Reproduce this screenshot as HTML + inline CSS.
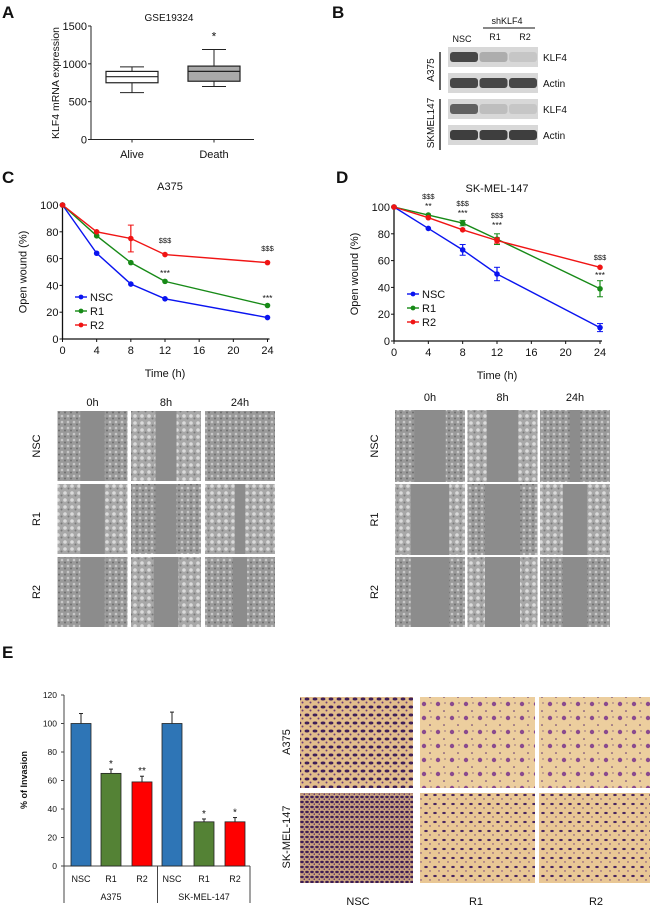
<!DOCTYPE html>
<html><head><meta charset="utf-8"><style>
html,body{margin:0;padding:0;background:#fff;}
svg{display:block;font-family:"Liberation Sans",Arial,sans-serif;}
</style></head><body>
<svg id="fig" width="650" height="907" viewBox="0 0 650 907" xmlns="http://www.w3.org/2000/svg">
<defs>
<pattern id="cellsA" width="6" height="6" patternUnits="userSpaceOnUse">
<rect width="6" height="6" fill="#9a9a9a"/><circle cx="2" cy="2" r="1.3" fill="#c8c8c8"/><circle cx="5" cy="4.5" r="1" fill="#6e6e6e"/>
</pattern>
<pattern id="cellsB" width="7" height="7" patternUnits="userSpaceOnUse">
<rect width="7" height="7" fill="#a8a8a8"/><circle cx="2" cy="3" r="1.8" fill="#dadada"/><circle cx="5.5" cy="5.5" r="1" fill="#7a7a7a"/>
</pattern>
<pattern id="purpN" width="8" height="8" patternUnits="userSpaceOnUse">
<rect width="8" height="8" fill="#e2bd8c"/><ellipse cx="3" cy="3" rx="2.4" ry="1.5" fill="#3f1f58"/><circle cx="6.5" cy="6.5" r="1" fill="#6a3a7a"/>
</pattern>
<pattern id="purp" width="9" height="9" patternUnits="userSpaceOnUse">
<rect width="9" height="9" fill="#e9c795"/><ellipse cx="3" cy="3" rx="1.8" ry="1.1" fill="#4a2660"/><circle cx="7" cy="7" r="0.7" fill="#6a3a7a"/>
</pattern>
<pattern id="purpD" width="5" height="5" patternUnits="userSpaceOnUse">
<rect width="5" height="5" fill="#c9a27e"/><ellipse cx="2" cy="2" rx="1.8" ry="1.2" fill="#3d1d55"/><circle cx="4.3" cy="4.2" r="0.8" fill="#5a2d70"/>
</pattern>
<pattern id="purpL" width="14" height="14" patternUnits="userSpaceOnUse">
<rect width="14" height="14" fill="#ecce9e"/><circle cx="4" cy="4" r="2.2" fill="#8a4a8e"/><circle cx="10" cy="11" r="0.8" fill="#5a2d70"/><circle cx="11" cy="3" r="0.6" fill="#5a2d70"/>
</pattern>
</defs>
<g id="root"></g>
</svg>
<script>
// ---------- Panel A data ----------
const aCats=["Alive","Death"];
const aMin=[620,700], aQ1=[750,770], aMed=[830,900], aQ3=[900,970], aMax=[960,1190];
const aTicks=[0,500,1000,1500];
// ---------- Panel C/D data ----------
const times=[0,4,8,12,24];
const xTicks=[0,4,8,12,16,20,24];
const yTicksW=[0,20,40,60,80,100];
const cNSC=[100,64,41,30,16], cR1=[100,77,57,43,25], cR2=[100,80,75,63,57];
const cErrNSC=[0,1,1,1,1], cErrR1=[0,1,1,1,1], cErrR2=[0,1,10,1,1];
const dNSC=[100,84,68,50,10], dR1=[100,94,88,76,39], dR2=[100,92,83,75,55];
const dErrNSC=[0,1,4,5,3], dErrR1=[0,1,2,4,6], dErrR2=[0,1,1,2,1];
// ---------- Panel E data ----------
const eCats=["NSC","R1","R2","NSC","R1","R2"];
const eVals=[100,65,59,100,31,31];
const eErr=[7,3,4,8,2,3];
const eSig=["","*","**","","*","*"];
const eTicks=[0,20,40,60,80,100,120];

const NS="http://www.w3.org/2000/svg";
const root=document.getElementById('root');
function el(tag,attrs,parent,txt){const e=document.createElementNS(NS,tag);for(const k in attrs)e.setAttribute(k,attrs[k]);if(txt!==undefined)e.textContent=txt;(parent||root).appendChild(e);return e;}
function t(x,y,s,size,opts){opts=opts||{};const e=el('text',{x:x,y:y,'font-size':size,'text-anchor':opts.anchor||'middle',fill:opts.fill||'#111','font-weight':opts.bold?'bold':'normal'},opts.parent,s);if(opts.rot)e.setAttribute('transform','rotate(-90 '+x+' '+y+')');return e;}

// Panel letters
[["A",2,18],["B",332,18],["C",2,183],["D",336,183],["E",2,658]].forEach(p=>{
 const e=t(p[1],p[2],p[0],17,{anchor:'start',bold:true});
 
 
});

// ---------- Panel A ----------
(function(){
 const g=el('g',{});
 
 
 const x0=91,x1=254,yTop=26,yBot=139.5;
 const y=v=>yBot-(v/1500)*(yBot-yTop);
 const xc=[132,214];
 el('line',{x1:x0,y1:yTop,x2:x0,y2:yBot,stroke:'#222','stroke-width':1},g);
 el('line',{x1:x0,y1:yBot,x2:x1,y2:yBot,stroke:'#222','stroke-width':1},g);
 aTicks.forEach(v=>{el('line',{x1:x0-3,y1:y(v),x2:x0,y2:y(v),stroke:'#222'},g);t(x0-4,y(v)+4,String(v),11,{anchor:'end',parent:g});});
 aCats.forEach((c,i)=>{
  const bx=xc[i];
  el('line',{x1:bx,y1:yBot,x2:bx,y2:yBot+3,stroke:'#222'},g);
  t(bx,158,c,11,{parent:g});
  el('line',{x1:bx,y1:y(aMax[i]),x2:bx,y2:y(aMin[i]),stroke:'#222'},g);
  el('line',{x1:bx-12,y1:y(aMax[i]),x2:bx+12,y2:y(aMax[i]),stroke:'#222'},g);
  el('line',{x1:bx-12,y1:y(aMin[i]),x2:bx+12,y2:y(aMin[i]),stroke:'#222'},g);
  const b=el('rect',{x:bx-26,y:y(aQ3[i]),width:52,height:y(aQ1[i])-y(aQ3[i]),fill:i?'#a9a9a9':'#fff',stroke:'#222','stroke-width':1.2},g);
  
  
  el('line',{x1:bx-26,y1:y(aMed[i]),x2:bx+26,y2:y(aMed[i]),stroke:'#222','stroke-width':1.2},g);
 });
 t(214,y(aMax[1])-9,"*",12,{parent:g});
 t(169,21,"GSE19324",10,{parent:g});
 t(59,83,"KLF4 mRNA expression",10.5,{rot:true,parent:g});
})();

// ---------- Panel B (western blot) ----------
(function(){
 const g=el('g',{});
 
 
 t(462,42,"NSC",9,{parent:g});t(495,40,"R1",9,{parent:g});t(525,40,"R2",9,{parent:g});
 t(507,24,"shKLF4",9,{parent:g});
 el('line',{x1:483,y1:28,x2:535,y2:28,stroke:'#111','stroke-width':1},g);
 const rows=[[47,'KLF4',[0.85,0.25,0.1]],[73,'Actin',[0.85,0.85,0.85]],[99,'KLF4',[0.7,0.15,0.1]],[125,'Actin',[0.9,0.9,0.9]]];
 rows.forEach(r=>{
  el('rect',{x:448,y:r[0],width:90,height:20,fill:'#d8d8d8'},g);
  r[2].forEach((d,i)=>{
   const c=Math.round(215-d*170);
   el('rect',{x:450+i*29.5,y:r[0]+5,width:28,height:10,rx:3,fill:'rgb('+c+','+c+','+c+')'},g);
  });
  t(543,r[0]+14,r[1],10,{anchor:'start',parent:g});
 });
 el('line',{x1:440,y1:52,x2:440,y2:90,stroke:'#111','stroke-width':1.3},g);
 el('line',{x1:440,y1:99,x2:440,y2:150,stroke:'#111','stroke-width':1.3},g);
 t(434,70,"A375",10,{rot:true,parent:g});
 t(434,123,"SKMEL147",10,{rot:true,parent:g});
})();

// ---------- Panels C & D (line charts) ----------
function wound(cfg){
 const g=el('g',{});
 
 
 const X=h=>cfg.x0+(h/24)*(cfg.x1-cfg.x0);
 const Y=v=>cfg.y0-(v/100)*(cfg.y0-cfg.y100);
 el('line',{x1:cfg.x0,y1:cfg.y100-2,x2:cfg.x0,y2:cfg.y0,stroke:'#111','stroke-width':1.3},g);
 el('line',{x1:cfg.x0,y1:cfg.y0,x2:cfg.x1+2,y2:cfg.y0,stroke:'#111','stroke-width':1.3},g);
 xTicks.forEach(h=>{el('line',{x1:X(h),y1:cfg.y0,x2:X(h),y2:cfg.y0+3,stroke:'#111'},g);t(X(h),cfg.y0+15,String(h),11,{parent:g});});
 yTicksW.forEach(v=>{el('line',{x1:cfg.x0-3,y1:Y(v),x2:cfg.x0,y2:Y(v),stroke:'#111'},g);t(cfg.x0-4,Y(v)+4,String(v),11,{anchor:'end',parent:g});});
 t((cfg.x0+cfg.x1)/2,cfg.y0+38,"Time (h)",11,{parent:g});
 t(cfg.x0-36,(cfg.y0+cfg.y100)/2,"Open wound (%)",11,{rot:true,parent:g});
 t(cfg.tx,cfg.y100-15,cfg.title,11,{parent:g});
 const series=[["NSC",cfg.nsc,cfg.enSC,'#0a14f0'],["R1",cfg.r1,cfg.eR1,'#178a17'],["R2",cfg.r2,cfg.eR2,'#f01414']];
 series.forEach((s,si)=>{
  const pts=times.map((h,i)=>X(h)+','+Y(s[1][i])).join(' ');
  const pl=el('polyline',{points:pts,fill:'none',stroke:s[3],'stroke-width':1.4},g);
  
  
  times.forEach((h,i)=>{
   const e=s[2][i];
   if(e>1){el('line',{x1:X(h),y1:Y(s[1][i]+e),x2:X(h),y2:Y(s[1][i]-e),stroke:s[3],'stroke-width':1.2},g);
    el('line',{x1:X(h)-3,y1:Y(s[1][i]+e),x2:X(h)+3,y2:Y(s[1][i]+e),stroke:s[3]},g);
    el('line',{x1:X(h)-3,y1:Y(s[1][i]-e),x2:X(h)+3,y2:Y(s[1][i]-e),stroke:s[3]},g);}
   const c=el('circle',{cx:X(h),cy:Y(s[1][i]),r:2.8,fill:s[3]},g);
   
   
  });
  const ly=cfg.legY+si*14;
  el('line',{x1:cfg.legX,y1:ly,x2:cfg.legX+12,y2:ly,stroke:s[3],'stroke-width':1.4},g);
  el('circle',{cx:cfg.legX+6,cy:ly,r:2.4,fill:s[3]},g);
  t(cfg.legX+15,ly+4,s[0],11,{anchor:'start',parent:g});
 });
 cfg.ann.forEach(a=>t(X(a[0]),a[1],a[2],a[3],{parent:g}));
}
wound({name:'line-chart-c-a375',title:'A375',tx:170,x0:62.5,x1:267.5,y0:339,y100:205,nsc:cNSC,enSC:cErrNSC,r1:cR1,eR1:cErrR1,r2:cR2,eR2:cErrR2,legX:75,legY:297,
 ann:[[12,243,'$$$',7.5],[12,276,'***',8.5],[24,251,'$$$',7.5],[24,301,'***',8.5]]});
wound({name:'line-chart-d-skmel147',title:'SK-MEL-147',tx:497,x0:394,x1:600,y0:341,y100:207,nsc:dNSC,enSC:dErrNSC,r1:dR1,eR1:dErrR1,r2:dR2,eR2:dErrR2,legX:407,legY:294,
 ann:[[4,199,'$$$',7.5],[4,209,'**',8.5],[8,206,'$$$',7.5],[8,216,'***',8.5],[12,218,'$$$',7.5],[12,228,'***',8.5],[24,260,'$$$',7.5],[24,278,'***',8.5]]});

// ---------- Wound micrographs ----------
function micro(name,cols,rows,labY,rowLabX,gaps){
 const g=el('g',{});
 
 
 ["0h","8h","24h"].forEach((l,i)=>t((cols[i][0]+cols[i][1])/2,labY,l,11,{parent:g}));
 ["NSC","R1","R2"].forEach((l,j)=>t(rowLabX,(rows[j][0]+rows[j][1])/2,l,11,{rot:true,parent:g}));
 rows.forEach((r,j)=>cols.forEach((c,i)=>{
  const w=c[1]-c[0],h=r[1]-r[0];
  el('rect',{x:c[0],y:r[0],width:w,height:h,fill:(j+i)%2?'url(#cellsB)':'url(#cellsA)'},g);
  const gw=gaps[j][i]*w;
  if(gw>0)el('rect',{x:c[0]+w/2-gw/2,y:r[0],width:gw,height:h,fill:'#8c8c8c'},g);
 }));
}
micro('wound-images-c',[[57.5,127.5],[131,201],[205,275]],[[411,481],[484,554],[557,627]],406,40,[[0.35,0.3,0],[0.35,0.3,0.15],[0.35,0.35,0.2]]);
micro('wound-images-d',[[395,465],[467.5,537.5],[540,610]],[[410,482],[484,555],[557,627]],401,378,[[0.45,0.45,0.15],[0.55,0.5,0.35],[0.55,0.5,0.35]]);

// ---------- Panel E bar chart ----------
(function(){
 const g=el('g',{});
 
 
 const x0=64,y0=866,y120=695;
 const Y=v=>y0-(v/120)*(y0-y120);
 const xc=[81,111,142,172,204,235];
 const cols=['#2e75b6','#548235','#ff0000','#2e75b6','#548235','#ff0000'];
 el('line',{x1:x0,y1:y120,x2:x0,y2:y0,stroke:'#444'},g);
 el('line',{x1:x0,y1:y0,x2:250,y2:y0,stroke:'#444'},g);
 [64,157.5,250].forEach(x=>el('line',{x1:x,y1:y0,x2:x,y2:903,stroke:'#444'},g));
 eTicks.forEach(v=>{el('line',{x1:x0-3,y1:Y(v),x2:x0,y2:Y(v),stroke:'#444'},g);t(x0-7,Y(v)+3,String(v),8.5,{anchor:'end',parent:g});});
 eVals.forEach((v,i)=>{
  const b=el('rect',{x:xc[i]-10,y:Y(v),width:20,height:y0-Y(v),fill:cols[i],stroke:'#222','stroke-width':0.8},g);
  
  
  el('line',{x1:xc[i],y1:Y(v),x2:xc[i],y2:Y(v+eErr[i]),stroke:'#222'},g);
  el('line',{x1:xc[i]-2,y1:Y(v+eErr[i]),x2:xc[i]+2,y2:Y(v+eErr[i]),stroke:'#222'},g);
  if(eSig[i])t(xc[i],Y(v+eErr[i])-2,eSig[i],10,{parent:g});
  t(xc[i],882,eCats[i],9,{parent:g});
 });
 t(111,900,"A375",9,{parent:g});
 t(204,900,"SK-MEL-147",9,{parent:g});
 t(27,780,"% of Invasion",9,{rot:true,bold:true,parent:g});
})();

// ---------- Invasion images ----------
(function(){
 const g=el('g',{});
 
 
 const cols=[[300,413],[420,535],[539,650]];
 const rows=[[697,788],[793,883]];
 const fills=[['url(#purpN)','url(#purpL)','url(#purpL)'],['url(#purpD)','url(#purp)','url(#purp)']];
 rows.forEach((r,j)=>cols.forEach((c,i)=>el('rect',{x:c[0],y:r[0],width:c[1]-c[0],height:r[1]-r[0],fill:fills[j][i]},g)));
 t(290,742,"A375",11,{rot:true,parent:g});
 t(290,837,"SK-MEL-147",11,{rot:true,parent:g});
 ["NSC","R1","R2"].forEach((l,i)=>t([358,476,596][i],905,l,11,{parent:g}));
})();
</script>
</body></html>
